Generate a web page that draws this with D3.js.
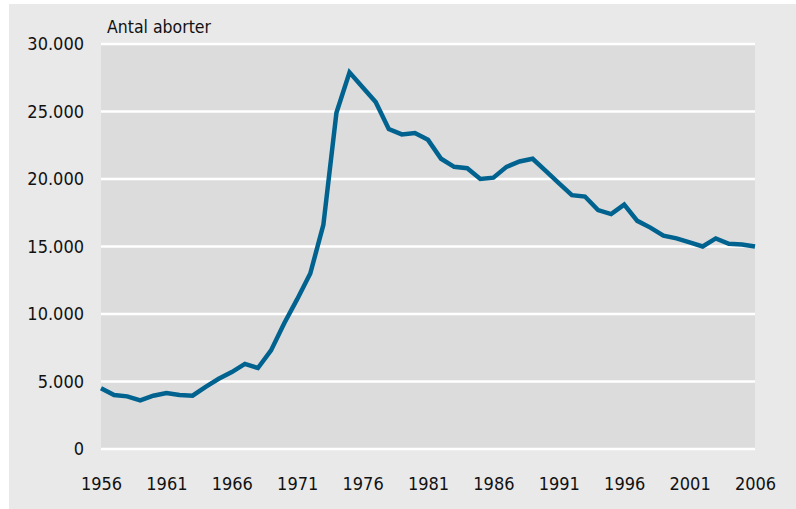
<!DOCTYPE html>
<html>
<head>
<meta charset="utf-8">
<script src="https://cdn.jsdelivr.net/npm/d3@7"></script>
<style>
  body { margin: 0; background: #ffffff; }
  svg text { font-family: "Liberation Sans Narrow", "DejaVu Sans Condensed", "Open Sans", sans-serif; fill: #111; }
</style>
</head>
<body>
<div id="chart"></div>
<script>
// Antal aborter per year 1956-2006
var years = d3.range(1956, 2007);
var abortions = [
  4500, 4000, 3900, 3600, 3950, 4150, 4000, 3950, 4600, 5200,
  5700, 6300, 6000, 7300, 9300, 11100, 13000, 16600, 24900, 27900,
  26800, 25700, 23700, 23300, 23400, 22900, 21500, 20900, 20800, 20000,
  20100, 20900, 21300, 21500, 20600, 19700, 18800, 18700, 17700, 17400,
  18100, 16900, 16400, 15800, 15600, 15300, 15000, 15600, 15200, 15150,
  15000
];
var yTicks = [0, 5000, 10000, 15000, 20000, 25000, 30000];
var xTicks = [1956, 1961, 1966, 1971, 1976, 1981, 1986, 1991, 1996, 2001, 2006];
var yTitle = "Antal aborter";

var W = 796, H = 509;
var margin = {top: 44, right: 41, bottom: 60, left: 101},
    width = W - margin.left - margin.right,
    height = H - margin.top - margin.bottom;

var svg = d3.select("#chart").append("svg")
    .attr("width", W)
    .attr("height", H);

// outer panel
svg.append("rect")
    .attr("x", 9).attr("y", 4)
    .attr("width", W - 9).attr("height", H - 4)
    .attr("fill", "#e9e9e9");

var g = svg.append("g")
    .attr("transform", "translate(" + margin.left + "," + margin.top + ")");

var xScale = d3.scaleLinear().domain([1956, 2006]).range([0, width]);
var yScale = d3.scaleLinear().domain([0, 30000]).range([height, 0]);

g.append("rect")
    .attr("width", width).attr("height", height)
    .attr("fill", "#dcdcdc");

// white gridlines
g.selectAll(".grid")
  .data(yTicks)
  .enter().append("line")
    .attr("class", "grid")
    .attr("x1", 0).attr("x2", width)
    .attr("y1", function(d) { return yScale(d); })
    .attr("y2", function(d) { return yScale(d); })
    .attr("stroke", "#ffffff")
    .attr("stroke-width", 2.5);

var fmt = function(d) { return d3.format(",")(d).replace(/,/g, "."); };

var yAxis = d3.axisLeft(yScale).tickValues(yTicks).tickFormat(fmt).tickSize(0).tickPadding(17);
var xAxis = d3.axisBottom(xScale).tickValues(xTicks).tickFormat(d3.format("d")).tickSize(0).tickPadding(28);

g.append("g")
    .attr("class", "y axis")
    .call(yAxis)
    .call(function(a) { a.select(".domain").remove(); })
    .selectAll("text")
    .style("font-size", "18px");

g.append("g")
    .attr("class", "x axis")
    .attr("transform", "translate(0," + height + ")")
    .call(xAxis)
    .call(function(a) { a.select(".domain").remove(); })
    .selectAll("text")
    .style("font-size", "18px");

g.append("text")
    .attr("x", 6).attr("y", -11)
    .style("font-size", "17.5px")
    .text(yTitle);

var valueline = d3.line()
    .x(function(d, i) { return xScale(years[i]); })
    .y(function(d) { return yScale(d); });

g.append("path")
    .datum(abortions)
    .attr("d", valueline)
    .attr("fill", "none")
    .attr("stroke", "#00628f")
    .attr("stroke-width", 4.5)
    .attr("stroke-linejoin", "miter");
</script>
</body>
</html>
